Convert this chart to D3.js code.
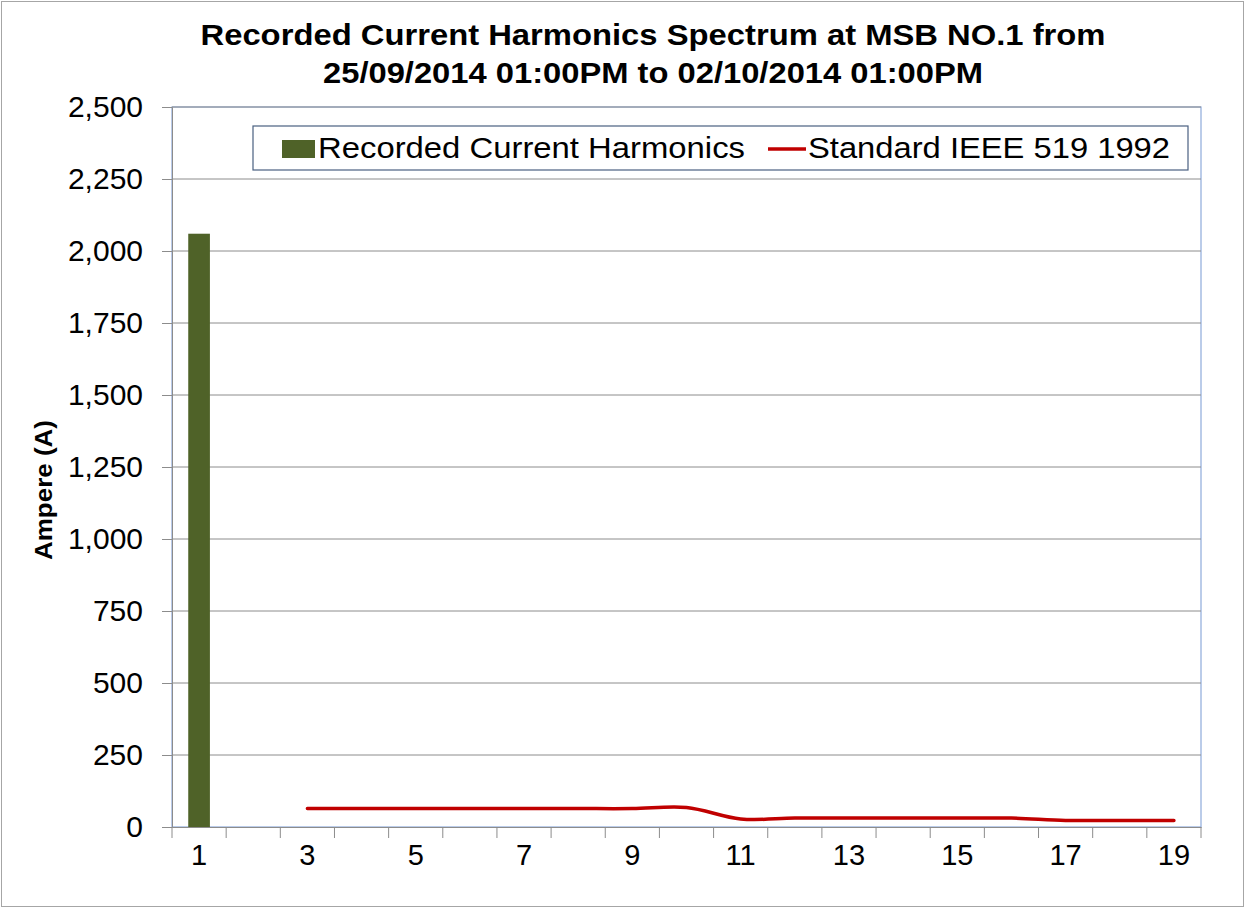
<!DOCTYPE html>
<html>
<head>
<meta charset="utf-8">
<title>Recorded Current Harmonics Spectrum</title>
<script src="https://d3js.org/d3.v7.min.js"></script>
<style>
body { margin: 0; background: white; font-family: Arial, "Liberation Sans", sans-serif; }
</style>
</head>
<body>
<script>
// harmonic orders and readings
var orders = d3.range(1, 20);
var recorded = [2060, 0, 0, 0, 0, 0, 0, 0, 0, 0, 0, 0, 0, 0, 0, 0, 0, 0, 0];
var stdOrders = [3, 4, 5, 6, 7, 8, 9, 10, 11, 12, 13, 14, 15, 16, 17, 18, 19];
var stdLimit = [64, 64, 64, 64, 64, 64, 64, 68, 28, 31, 31, 31, 31, 31, 23, 23, 23];
var yTicks = [0, 250, 500, 750, 1000, 1250, 1500, 1750, 2000, 2250, 2500];

var width = 1247, height = 909;
// plot area edges
var pLeft = 172, pRight = 1201, pTop = 107, pBottom = 827;

var svg = d3.select("body").append("svg")
  .attr("width", width)
  .attr("height", height);

// chart border
svg.append("rect")
  .attr("x", 1.5).attr("y", 1.5)
  .attr("width", 1242).attr("height", 905)
  .attr("fill", "white").attr("stroke", "#a6a6a6");

var x = d3.scaleBand()
  .domain(orders)
  .range([pLeft, pRight])
  .paddingInner(0.6)
  .paddingOuter(0.3);

var y = d3.scaleLinear()
  .domain([0, 2500])
  .range([pBottom, pTop]);

// plot area outline
svg.append("rect")
  .attr("x", pLeft).attr("y", pTop)
  .attr("width", pRight - pLeft).attr("height", pBottom - pTop)
  .attr("fill", "none").attr("stroke", "#8eaadb").attr("stroke-width", 1.2);

// grid
svg.append("g").selectAll("line")
  .data(yTicks.slice(1))
  .enter().append("line")
  .attr("x1", pLeft).attr("x2", pRight)
  .attr("y1", function(d) { return y(d); })
  .attr("y2", function(d) { return y(d); })
  .attr("stroke", "#8c8c8c").attr("stroke-width", 1);

// y axis
var yAxis = svg.append("g")
  .attr("transform", "translate(" + pLeft + ",0)")
  .call(d3.axisLeft(y).tickValues(yTicks).tickSize(10).tickPadding(19).tickFormat(d3.format(",")));
yAxis.select(".domain").attr("stroke", "#8c8c8c");
yAxis.selectAll(".tick line").attr("stroke", "#8c8c8c");
yAxis.selectAll("text")
  .attr("font-family", "Arial, 'Liberation Sans', sans-serif")
  .attr("font-size", 30).attr("fill", "#000");

// x axis
var xAxis = svg.append("g")
  .attr("transform", "translate(0," + pBottom + ")")
  .call(d3.axisBottom(x).tickSize(0).tickPadding(17)
    .tickFormat(function(d) { return d % 2 === 1 ? d : ""; }));
xAxis.select(".domain").attr("stroke", "#8c8c8c");
xAxis.selectAll("text")
  .attr("font-family", "Arial, 'Liberation Sans', sans-serif")
  .attr("font-size", 29).attr("fill", "#000");

// category boundary ticks
var step = x.step();
svg.append("g").selectAll("line")
  .data(d3.range(orders.length + 1))
  .enter().append("line")
  .attr("x1", function(i) { return pLeft + i * step; })
  .attr("x2", function(i) { return pLeft + i * step; })
  .attr("y1", pBottom).attr("y2", pBottom + 11)
  .attr("stroke", "#8c8c8c");

// bars
svg.append("g").selectAll("rect")
  .data(orders)
  .enter().append("rect")
  .attr("x", function(d) { return x(d); })
  .attr("width", x.bandwidth())
  .attr("y", function(d, i) { return y(recorded[i]); })
  .attr("height", function(d, i) { return pBottom - y(recorded[i]); })
  .attr("fill", "#4f6228");

// standard line
var line = d3.line()
  .x(function(d, i) { return x(stdOrders[i]) + x.bandwidth() / 2; })
  .y(function(d) { return y(d); })
  .curve(d3.curveCatmullRom.alpha(0));
svg.append("path")
  .datum(stdLimit)
  .attr("d", line)
  .attr("fill", "none")
  .attr("stroke", "#c00000")
  .attr("stroke-width", 3.5)
  .attr("stroke-linecap", "round");

// title
var title = svg.append("g")
  .attr("font-family", "Arial, 'Liberation Sans', sans-serif")
  .attr("font-weight", "bold")
  .attr("font-size", 29)
  .attr("text-anchor", "middle");
title.append("text").attr("x", 653).attr("y", 45)
  .attr("textLength", 905).attr("lengthAdjust", "spacingAndGlyphs")
  .text("Recorded Current Harmonics Spectrum at MSB NO.1 from");
title.append("text").attr("x", 653).attr("y", 83)
  .attr("textLength", 660).attr("lengthAdjust", "spacingAndGlyphs")
  .text("25/09/2014 01:00PM to 02/10/2014 01:00PM");

// y label
svg.append("text")
  .attr("transform", "translate(52,490) rotate(-90)")
  .attr("text-anchor", "middle")
  .attr("font-family", "Arial, 'Liberation Sans', sans-serif")
  .attr("font-weight", "bold")
  .attr("font-size", 23)
  .attr("textLength", 140).attr("lengthAdjust", "spacingAndGlyphs")
  .text("Ampere (A)");

// legend
var legend = svg.append("g");
legend.append("rect")
  .attr("x", 253).attr("y", 126)
  .attr("width", 935).attr("height", 44)
  .attr("fill", "white").attr("stroke", "#4a6080").attr("stroke-width", 1.2);
legend.append("rect")
  .attr("x", 282).attr("y", 140).attr("width", 33).attr("height", 18)
  .attr("fill", "#4f6228");
legend.append("text")
  .attr("x", 318).attr("y", 158)
  .attr("font-family", "Arial, 'Liberation Sans', sans-serif")
  .attr("font-size", 29)
  .attr("textLength", 427).attr("lengthAdjust", "spacingAndGlyphs")
  .text("Recorded Current Harmonics");
legend.append("line")
  .attr("x1", 768).attr("x2", 806).attr("y1", 149).attr("y2", 149)
  .attr("stroke", "#c00000").attr("stroke-width", 3.5);
legend.append("text")
  .attr("x", 808).attr("y", 158)
  .attr("font-family", "Arial, 'Liberation Sans', sans-serif")
  .attr("font-size", 29)
  .attr("textLength", 362).attr("lengthAdjust", "spacingAndGlyphs")
  .text("Standard IEEE 519 1992");
</script>
</body>
</html>
